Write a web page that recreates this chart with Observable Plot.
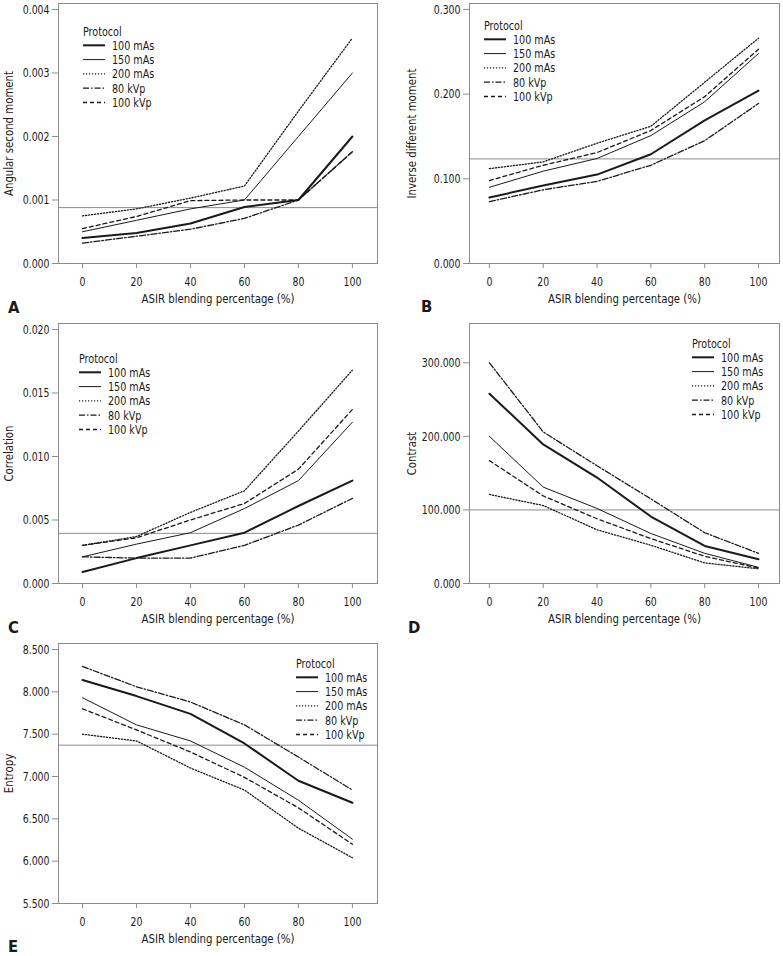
<!DOCTYPE html>
<html><head><meta charset="utf-8">
<script src="https://cdn.jsdelivr.net/npm/d3@7"></script>
<script src="https://cdn.jsdelivr.net/npm/@observablehq/plot@0.6"></script>
<style>
body{margin:0;background:#fff;}
#wrap{position:relative;width:783px;height:956px;overflow:hidden;font-family:"DejaVu Sans Condensed","DejaVu Sans",sans-serif;color:#1a1a1a;}
.panel{position:absolute;}
.overlay{position:absolute;overflow:visible;}
</style></head><body><div id="wrap"></div>
<script>
// ---- data ----
const asir = [0, 20, 40, 60, 80, 100];
const protocols = ["100 mAs", "150 mAs", "200 mAs", "80 kVp", "100 kVp"];

// rows follow the order of `protocols`
const angularSecondMoment = [
  [0.00040, 0.00048, 0.00063, 0.00089, 0.00100, 0.00200],
  [0.00050, 0.00068, 0.00086, 0.00100, 0.00200, 0.00300],
  [0.00075, 0.00086, 0.00103, 0.00122, 0.00240, 0.00355],
  [0.00032, 0.00043, 0.00054, 0.00071, 0.00100, 0.00176],
  [0.00055, 0.00074, 0.00099, 0.00100, 0.00100, 0.00176]
];
const inverseDifferentMoment = [
  [0.078, 0.092, 0.105, 0.129, 0.169, 0.204],
  [0.090, 0.109, 0.124, 0.151, 0.191, 0.248],
  [0.112, 0.120, 0.142, 0.162, 0.214, 0.266],
  [0.073, 0.087, 0.097, 0.116, 0.145, 0.189],
  [0.098, 0.116, 0.131, 0.157, 0.197, 0.253]
];
const correlation = [
  [0.0009, 0.0020, 0.0030, 0.0040, 0.0061, 0.0081],
  [0.0021, 0.0031, 0.0040, 0.0059, 0.0081, 0.0127],
  [0.0030, 0.0037, 0.0056, 0.0073, 0.0120, 0.0168],
  [0.0021, 0.0020, 0.0020, 0.0030, 0.0046, 0.0067],
  [0.0030, 0.0036, 0.0050, 0.0063, 0.0090, 0.0137]
];
const contrast = [
  [258, 189, 144, 91, 51, 33],
  [200, 131, 102, 68, 41, 22],
  [121, 106, 73, 52, 28, 20],
  [300, 206, 160, 115, 69, 41],
  [167, 119, 88, 61, 37, 21]
];
const entropy = [
  [8.14, 7.95, 7.74, 7.39, 6.95, 6.69],
  [7.93, 7.61, 7.42, 7.11, 6.72, 6.26],
  [7.50, 7.42, 7.10, 6.84, 6.39, 6.04],
  [8.30, 8.06, 7.88, 7.61, 7.23, 6.84],
  [7.80, 7.55, 7.29, 6.99, 6.63, 6.20]
];
const referenceLines = [0.00088, 0.1235, 0.00395, 100, 7.37];
const yTicksA = [0, 0.001, 0.002, 0.003, 0.004];
const yTicksB = [0, 0.1, 0.2, 0.3];
const yTicksC = [0, 0.005, 0.010, 0.015, 0.020];
const yTicksD = [0, 100, 200, 300];
const yTicksE = [5.5, 6, 6.5, 7, 7.5, 8, 8.5];
const yLabels = ["Angular second moment", "Inverse different moment", "Correlation", "Contrast", "Entropy"];
const panelLetters = ["A", "B", "C", "D", "E"];
const legendTitle = "Protocol";
const xLabel = "ASIR blending percentage (%)";

// ---- styles ----
const lineStyle = {
  "100 mAs": {strokeWidth: 2, dash: null},
  "150 mAs": {strokeWidth: 1, dash: null},
  "200 mAs": {strokeWidth: 1.3, dash: "1.2,1.8"},
  "80 kVp": {strokeWidth: 1.3, dash: "6,2,1.5,2"},
  "100 kVp": {strokeWidth: 1.3, dash: "4,3"}
};
const GRAY = "#8c8c8c";
const INK = "#1a1a1a";
const FONT = '"DejaVu Sans Condensed","DejaVu Sans",sans-serif';
const wrap = document.getElementById("wrap");

// squeeze glyphs horizontally to imitate the condensed face of the original
function condense(root, factor) {
  root.querySelectorAll("text").forEach(t => {
    const len = t.getComputedTextLength();
    if (len > 0) {
      t.setAttribute("textLength", (len * factor).toFixed(2));
      t.setAttribute("lengthAdjust", "spacingAndGlyphs");
    }
  });
}

function drawPanel(cfg) {
  const rows = [];
  protocols.forEach((p, i) => asir.forEach((x, j) => rows.push({protocol: p, x, y: cfg.values[i][j]})));
  const chart = Plot.plot({
    width: cfg.width, height: 320,
    marginTop: 3, marginBottom: 57, marginLeft: cfg.marginLeft, marginRight: cfg.marginRight,
    style: {fontFamily: FONT, fontSize: "13px", color: INK, background: "transparent", overflow: "visible"},
    x: {domain: cfg.xDomain},
    y: {domain: cfg.yDomain},
    marks: [
      Plot.frame({stroke: GRAY}),
      Plot.ruleY([cfg.ref], {stroke: GRAY, strokeWidth: 1}),
      ...protocols.map(p => Plot.line(rows.filter(d => d.protocol === p), {
        x: "x", y: "y", stroke: INK,
        strokeWidth: lineStyle[p].strokeWidth,
        strokeDasharray: lineStyle[p].dash,
        strokeLinejoin: "miter"
      })),
      Plot.axisX({ticks: asir, tickSize: 5, tickPadding: 8, stroke: GRAY, fill: INK,
        label: xLabel, labelAnchor: "center", labelArrow: false, labelOffset: 39}),
      Plot.axisY({ticks: cfg.yTicks, tickSize: 6, tickPadding: 3, stroke: GRAY, fill: INK,
        tickFormat: d3.format(".3f"), label: cfg.yLabel, labelAnchor: "center", labelArrow: false,
        labelOffset: cfg.labelOffsetY})
    ]
  });
  chart.classList.add("panel");
  chart.style.left = cfg.left + "px";
  chart.style.top = cfg.top + "px";
  wrap.appendChild(chart);
  chart.querySelectorAll('g[aria-label$="axis label"]').forEach(g => condense(g, 0.87));
  chart.querySelectorAll('g[aria-label$="tick label"]').forEach(g => condense(g, 0.8));

  // panel letter
  const lt = d3.create("svg").attr("class", "overlay").attr("width", 20).attr("height", 16)
    .style("left", cfg.letterPos[0] + "px").style("top", (cfg.letterPos[1] - 13) + "px");
  lt.append("text").attr("x", 0).attr("y", 13).attr("fill", INK)
    .style("font-family", FONT).style("font-weight", "bold").style("font-size", "16.5px").text(cfg.letter);
  wrap.appendChild(lt.node());

  // legend
  const [lx, ly] = cfg.legendPos;
  const step = 14.3;
  const svg = d3.create("svg").attr("class", "overlay")
    .attr("width", 110).attr("height", 100)
    .style("left", lx + "px").style("top", (ly - 10) + "px")
    .style("font-family", FONT).style("font-size", "13px");
  svg.append("text").attr("x", 0).attr("y", 10).attr("dy", "0.35em").attr("fill", INK).text(legendTitle);
  protocols.forEach((p, i) => {
    const yy = 10 + step * (i + 1);
    svg.append("line").attr("x1", 0).attr("x2", 22).attr("y1", yy).attr("y2", yy)
      .attr("stroke", INK).attr("stroke-width", lineStyle[p].strokeWidth)
      .attr("stroke-dasharray", lineStyle[p].dash);
    svg.append("text").attr("x", 29).attr("y", yy).attr("dy", "0.35em").attr("fill", INK).text(p);
  });
  wrap.appendChild(svg.node());
  condense(svg.node(), 0.82);
}

const leftCol = {width: 390, marginLeft: 58, marginRight: 13, xDomain: [-8.9, 109.3], labelOffsetY: 55};
const rightCol = {width: 393, marginLeft: 79, marginRight: 4, xDomain: [-7.4, 107.8], labelOffsetY: 63};

drawPanel({...leftCol, left: 0, top: 0, values: angularSecondMoment, yDomain: [0, 0.004094], yTicks: yTicksA,
  ref: referenceLines[0], yLabel: yLabels[0], letter: panelLetters[0], letterPos: [8, 313], legendPos: [83, 31]});
drawPanel({...rightCol, left: 390, top: 0, values: inverseDifferentMoment, yDomain: [0, 0.307], yTicks: yTicksB,
  ref: referenceLines[1], yLabel: yLabels[1], letter: panelLetters[1], letterPos: [421, 312], legendPos: [484, 25]});
drawPanel({...leftCol, left: 0, top: 320, values: correlation, yDomain: [0, 0.02047], yTicks: yTicksC,
  ref: referenceLines[2], yLabel: yLabels[2], letter: panelLetters[2], letterPos: [8, 633], legendPos: [79, 358]});
drawPanel({...rightCol, left: 390, top: 320, values: contrast, yDomain: [0, 353.4], yTicks: yTicksD,
  ref: referenceLines[3], yLabel: yLabels[3], letter: panelLetters[3], letterPos: [408, 633], legendPos: [692, 343]});
drawPanel({...leftCol, left: 0, top: 640, values: entropy, yDomain: [5.5, 8.571], yTicks: yTicksE,
  ref: referenceLines[4], yLabel: yLabels[4], letter: panelLetters[4], letterPos: [8, 952], legendPos: [296, 663]});
</script></body></html>
